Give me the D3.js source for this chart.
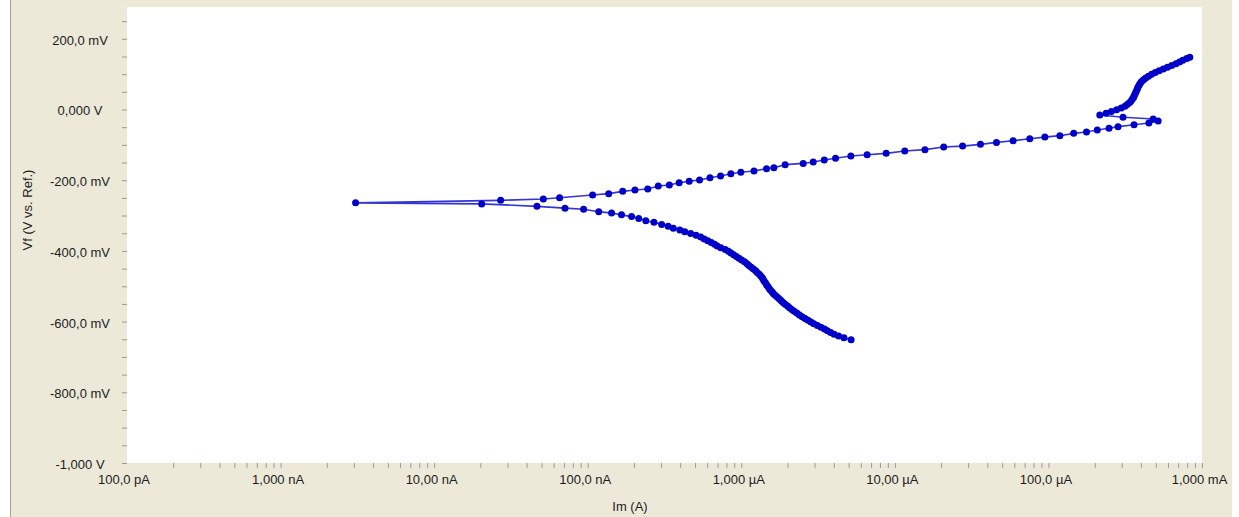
<!DOCTYPE html>
<html>
<head>
<meta charset="utf-8">
<script src="https://cdn.jsdelivr.net/npm/d3@7"></script>
<style>
  html, body { margin: 0; padding: 0; background: #ffffff; }
  svg { display: block; }
</style>
</head>
<body>
<svg id="chart" width="1239" height="517"></svg>
<script>
// Potentiodynamic polarisation scan: potential Vf (mV vs. Ref.) and current Im (A), in scan order.

// Cathodic branch, from the start of the sweep up to the corrosion potential
const cathodicE = [
  -651, -646, -641, -636, -631, -626, -621, -616, -611, -606,
  -601, -596, -591, -586, -581, -576, -571, -566, -561, -556,
  -551, -546, -541, -536, -531, -526, -521, -516, -511, -506,
  -501, -496, -491, -486, -481, -476, -471, -466, -461, -456,
  -451, -446, -441, -436, -431, -426, -421, -416, -411, -406,
  -401, -396, -391, -386, -381, -376, -371, -366, -361, -356,
  -351, -346, -341, -336, -330, -325, -319, -315, -308, -303,
  -298, -293, -289, -282, -279, -274, -267
];
const cathodicI = [
  5.19e-6, 4.66e-6, 4.30e-6, 4.02e-6, 3.82e-6, 3.64e-6, 3.48e-6, 3.30e-6, 3.13e-6, 2.97e-6,
  2.84e-6, 2.72e-6, 2.60e-6, 2.49e-6, 2.39e-6, 2.30e-6, 2.21e-6, 2.13e-6, 2.06e-6, 2.00e-6,
  1.93e-6, 1.87e-6, 1.82e-6, 1.77e-6, 1.72e-6, 1.67e-6, 1.62e-6, 1.59e-6, 1.55e-6, 1.52e-6,
  1.49e-6, 1.46e-6, 1.44e-6, 1.41e-6, 1.39e-6, 1.37e-6, 1.34e-6, 1.31e-6, 1.27e-6, 1.24e-6,
  1.20e-6, 1.16e-6, 1.12e-6, 1.09e-6, 1.05e-6, 1.005e-6, 9.66e-7, 9.29e-7, 8.92e-7, 8.57e-7,
  8.24e-7, 7.86e-7, 7.36e-7, 6.97e-7, 6.70e-7, 6.38e-7, 6.05e-7, 5.74e-7, 5.44e-7, 5.08e-7,
  4.68e-7, 4.29e-7, 3.98e-7, 3.61e-7, 3.34e-7, 3.03e-7, 2.70e-7, 2.39e-7, 2.15e-7, 1.93e-7,
  1.66e-7, 1.43e-7, 1.18e-7, 9.40e-8, 7.11e-8, 4.67e-8, 2.04e-8
];

// Corrosion potential and the anodic (active) branch
const anodicE = [
  -264, -257, -253, -249.5, -242, -238, -231.5, -227.5, -225, -216.5,
  -213.5, -207, -203, -199.5, -193, -188, -181.5, -177.5, -174, -167.5,
  -164.5, -156, -152.5, -148.5, -143, -138, -131.5, -128, -124, -117.5,
  -113.5, -106, -103.5, -98.5, -93, -88.5, -82.5, -78, -74, -67.5,
  -63.5, -58, -53, -48.5, -43, -38
];
const anodicI = [
  3.08e-9, 2.71e-8, 5.14e-8, 6.56e-8, 1.076e-7, 1.37e-7, 1.69e-7, 2.03e-7, 2.46e-7, 2.88e-7,
  3.40e-7, 3.94e-7, 4.58e-7, 5.35e-7, 6.25e-7, 7.33e-7, 8.55e-7, 9.93e-7, 1.21e-6, 1.46e-6,
  1.63e-6, 1.93e-6, 2.53e-6, 2.94e-6, 3.47e-6, 4.11e-6, 5.17e-6, 6.60e-6, 8.78e-6, 1.16e-5,
  1.57e-5, 2.08e-5, 2.76e-5, 3.61e-5, 4.59e-5, 5.89e-5, 7.56e-5, 9.48e-5, 1.187e-4, 1.46e-4,
  1.77e-4, 2.08e-4, 2.48e-4, 2.84e-4, 3.61e-4, 4.51e-4
];

// Current drop and the final rise to the end of the sweep
const upperE = [
  -32.5, -27, -22, -15.5, -10.6, -5.6, -0.6, 4.4, 9.4, 14.4,
  19.4, 24.4, 29.4, 34.4, 39.4, 44.4, 49.4, 54.4, 59.4, 64.4,
  69.4, 74.4, 79.4, 84.4, 89.4, 94.4, 99.4, 104.4, 109.4, 114.4,
  119.4, 124.4, 129.4, 134.4, 139.4, 144.4, 148
];
const upperI = [
  5.18e-4, 4.81e-4, 3.06e-4, 2.16e-4, 2.375e-4, 2.57e-4, 2.78e-4, 2.98e-4, 3.15e-4, 3.26e-4,
  3.37e-4, 3.45e-4, 3.52e-4, 3.59e-4, 3.62e-4, 3.67e-4, 3.71e-4, 3.76e-4, 3.80e-4, 3.84e-4,
  3.90e-4, 3.96e-4, 4.04e-4, 4.16e-4, 4.30e-4, 4.48e-4, 4.70e-4, 4.96e-4, 5.26e-4, 5.60e-4,
  5.96e-4, 6.35e-4, 6.76e-4, 7.14e-4, 7.50e-4, 7.95e-4, 8.33e-4
];

// Axis labelling
const xDecades = [1e-10, 1e-9, 1e-8, 1e-7, 1e-6, 1e-5, 1e-4, 1e-3];
const xTickLabels = ["100,0 pA", "1,000 nA", "10,00 nA", "100,0 nA", "1,000 \u00b5A", "10,00 \u00b5A", "100,0 \u00b5A", "1,000 mA"];
const yMajor = [200, 0, -200, -400, -600, -800, -1000];
const yTickLabels = ["200,0 mV", "0,000 V", "-200,0 mV", "-400,0 mV", "-600,0 mV", "-800,0 mV", "-1,000 V"];
const xTitle = "Im (A)";
const yTitle = "Vf (V vs. Ref.)";

const FONT = '"Liberation Sans", Arial, sans-serif';
const svg = d3.select("#chart");
const plot = { left: 127, right: 1202, top: 7, bottom: 463 };

const x = d3.scaleLog().domain([1e-10, 1e-3]).range([plot.left, plot.right]);
const y = d3.scaleLinear().domain([-1000, 290]).range([plot.bottom, plot.top]);

// window panel
svg.append("rect").attr("x", 10).attr("y", 0).attr("width", 1222).attr("height", 517).attr("fill", "#ECE9D8");
svg.append("line").attr("x1", 10.5).attr("x2", 10.5).attr("y1", 0).attr("y2", 517)
  .attr("stroke", "#A5A497").attr("stroke-width", 1);

// plot area
svg.append("rect").attr("x", plot.left).attr("y", plot.top)
  .attr("width", plot.right - plot.left).attr("height", plot.bottom - plot.top)
  .attr("fill", "#ffffff");

// x axis: ticks at 2..10 within every decade, labels on decades
const xTicks = [];
xDecades.slice(0, -1).forEach(d => { for (let k = 2; k <= 10; k++) xTicks.push(k * d); });
const isDecade = v => Math.abs(Math.log10(v) - Math.round(Math.log10(v))) < 1e-6;
const xLabelFor = v => {
  const idx = xDecades.findIndex(d => Math.abs(Math.log10(d) - Math.log10(v)) < 1e-6);
  return idx >= 0 ? xTickLabels[idx] : "";
};

const gx = svg.append("g").attr("transform", `translate(0,${plot.bottom})`)
  .call(d3.axisBottom(x).tickValues(xTicks).tickSize(5).tickFormat(v => isDecade(v) ? xLabelFor(v) : ""));
gx.select(".domain").remove();
gx.selectAll(".tick line").attr("stroke", "#9C9B92");
gx.selectAll(".tick text").attr("y", 21).attr("dy", 0).attr("dx", -3)
  .attr("font-family", FONT).attr("font-size", 13).attr("fill", "#1c1c1c");
// label for the first decade sits at the left edge
gx.append("text").attr("x", x(xDecades[0]) - 3).attr("y", 21).attr("text-anchor", "middle")
  .attr("font-family", FONT).attr("font-size", 13).attr("fill", "#1c1c1c").text(xTickLabels[0]);

// y axis: ticks every 50 mV, labels every 200 mV
const yTicks = d3.range(-1000, 251, 50);
const gy = svg.append("g").attr("transform", `translate(${plot.left},0)`)
  .call(d3.axisLeft(y).tickValues(yTicks).tickSize(5).tickFormat(v => {
    const idx = yMajor.indexOf(v);
    return idx >= 0 ? yTickLabels[idx] : "";
  }));
gy.select(".domain").remove();
gy.selectAll(".tick line").attr("stroke", "#9C9B92");
gy.selectAll(".tick text").attr("x", -47).attr("dy", "0.42em").attr("text-anchor", "middle")
  .attr("font-family", FONT).attr("font-size", 13).attr("fill", "#1c1c1c");

// axis titles
svg.append("text").attr("x", 630).attr("y", 511).attr("text-anchor", "middle")
  .attr("font-family", FONT).attr("font-size", 13).attr("fill", "#1c1c1c").text(xTitle);
svg.append("text").attr("transform", "translate(32,210) rotate(-90)").attr("text-anchor", "middle")
  .attr("font-family", FONT).attr("font-size", 13).attr("fill", "#1c1c1c").text(yTitle);

// scan data in acquisition order
const toPoints = (E, I) => E.map((e, k) => ({ e, i: I[k] }));
const scan = [].concat(
  toPoints(cathodicE, cathodicI),
  toPoints(anodicE, anodicI),
  toPoints(upperE, upperI)
);

const line = d3.line().x(d => x(d.i)).y(d => y(d.e));
svg.append("clipPath").attr("id", "plotClip").append("rect")
  .attr("x", plot.left).attr("y", plot.top)
  .attr("width", plot.right - plot.left).attr("height", plot.bottom - plot.top);

const gData = svg.append("g").attr("clip-path", "url(#plotClip)");
gData.append("path").datum(scan).attr("d", line)
  .attr("fill", "none").attr("stroke", "#3535D2").attr("stroke-width", 1.6);
gData.selectAll("circle").data(scan).join("circle")
  .attr("cx", d => x(d.i)).attr("cy", d => y(d.e)).attr("r", 3.5)
  .attr("fill", "#0000C8");
</script>
</body>
</html>
